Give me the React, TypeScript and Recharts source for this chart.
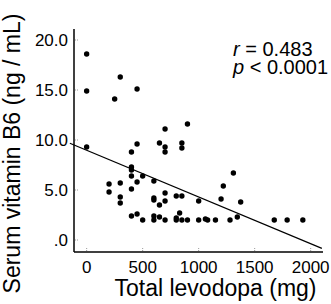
import React from "react";
import {
  ReferenceLine,
  Scatter,
  ScatterChart,
  XAxis,
  YAxis,
  Label,
} from "recharts";

// total levodopa dose (mg) and serum vitamin B6 (ng/mL), one entry per patient
const levodopa = [
  0, 0, 0, 300, 250, 450, 700, 900, 450, 650, 700, 850, 850, 400, 700,
  400, 400, 400, 500, 450, 600, 200, 300, 200, 400, 300, 300, 600, 600, 700,
  650, 700, 800, 850, 1000, 1200, 1220, 1310, 1375, 1345, 400, 450, 500, 600, 600,
  650, 700, 800, 800, 830, 850, 900, 1000, 1060, 1080, 1150, 1280, 1675, 1790, 1930,
];
const vitaminB6 = [
  18.6, 14.9, 9.3, 16.3, 14.1, 15.1, 11.1, 11.6, 9.6, 9.7, 9.3, 9.7, 9.2, 8.8, 8.8,
  7.3, 7.0, 6.4, 6.4, 5.8, 5.9, 5.6, 5.7, 4.8, 5.1, 4.3, 3.7, 4.2, 4.0, 4.7,
  3.5, 3.9, 4.4, 4.4, 3.9, 4.1, 5.4, 6.7, 3.8, 2.3, 2.4, 2.6, 2.0, 2.4, 2.0,
  2.3, 2.0, 2.2, 2.0, 2.7, 2.0, 2.0, 2.0, 2.1, 2.0, 2.0, 2.0, 2.0, 2.0, 2.0,
];

const xTicks = [0, 500, 1000, 1500, 2000];
const yTicks = [0, 5, 10, 15, 20];
const yTickLabels = [".0", "5.0", "10.0", "15.0", "20.0"];

// fitted regression line
const fitIntercept = 8.97;
const fitSlope = -0.00467;
const fitFrom = -150;
const fitTo = 2100;

const points = levodopa.map((x, i) => ({ x, y: vitaminB6[i] }));

const font = '"Liberation Sans", Arial, sans-serif';

const XTick = (props: any) => {
  const { x, y, payload } = props;
  return (
    <g>
      <line x1={x} x2={x} y1={y - 1} y2={y - 5} stroke="#999" strokeDasharray="1 1" />
      <text x={x} y={y + 21} textAnchor="middle" fontSize={17} fill="#000" fontFamily={font}>
        {payload.value}
      </text>
    </g>
  );
};

const YTick = (props: any) => {
  const { x, y, payload } = props;
  const idx = yTicks.indexOf(payload.value);
  return (
    <g>
      <line x1={x + 1} x2={x + 5} y1={y} y2={y} stroke="#999" strokeDasharray="1 1" />
      <text x={x - 6} y={y + 6} textAnchor="end" fontSize={17} fill="#000" fontFamily={font}>
        {yTickLabels[idx]}
      </text>
    </g>
  );
};

const Dot = (props: any) => <circle cx={props.cx} cy={props.cy} r={2.7} fill="#000" />;

export default function App() {
  return (
    <div style={{ position: "absolute", left: 0, top: 0, background: "#fff" }}>
      <ScatterChart width={331} height={304} margin={{ top: 29, right: 8, bottom: 0, left: 0 }}>
        <XAxis
          type="number"
          dataKey="x"
          domain={[-113, 2110]}
          ticks={xTicks}
          interval={0}
          height={52}
          tickSize={0}
          tickMargin={0}
          tick={<XTick />}
          axisLine={{ stroke: "#000", strokeWidth: 1.5 }}
          allowDataOverflow
        >
          <Label
            content={(p: any) => {
              const vb = p.viewBox;
              return (
                <text
                  x={vb.x + vb.width / 2 + 17}
                  y={vb.y + 44}
                  textAnchor="middle"
                  fontSize={23}
                  fill="#000"
                  fontFamily={font}
                >
                  Total levodopa (mg)
                </text>
              );
            }}
          />
        </XAxis>
        <YAxis
          type="number"
          dataKey="y"
          domain={[-1.2, 21.1]}
          ticks={yTicks}
          interval={0}
          width={74}
          tickSize={0}
          tickMargin={0}
          tick={<YTick />}
          axisLine={{ stroke: "#000", strokeWidth: 1.5 }}
          allowDataOverflow
        >
          <Label
            content={() => (
              <text
                x={19.5}
                y={153.5}
                transform="rotate(-90, 19.5, 153.5)"
                textAnchor="middle"
                fontSize={23}
                fill="#000"
                fontFamily={font}
              >
                Serum vitamin B6 (ng / mL)
              </text>
            )}
          />
        </YAxis>
        <ReferenceLine
          segment={[
            { x: fitFrom, y: fitIntercept + fitSlope * fitFrom },
            { x: fitTo, y: fitIntercept + fitSlope * fitTo },
          ]}
          stroke="#000"
          strokeWidth={1.2}
          ifOverflow="visible"
        />
        <Scatter data={points} shape={<Dot />} isAnimationActive={false} />
        <text x={233} y={56} fontSize={20} fill="#000" fontFamily={font}>
          <tspan fontStyle="italic">r</tspan> = 0.483
        </text>
        <text x={233} y={74} fontSize={20} fill="#000" fontFamily={font}>
          <tspan fontStyle="italic">p</tspan> &lt; 0.0001
        </text>
      </ScatterChart>
    </div>
  );
}
